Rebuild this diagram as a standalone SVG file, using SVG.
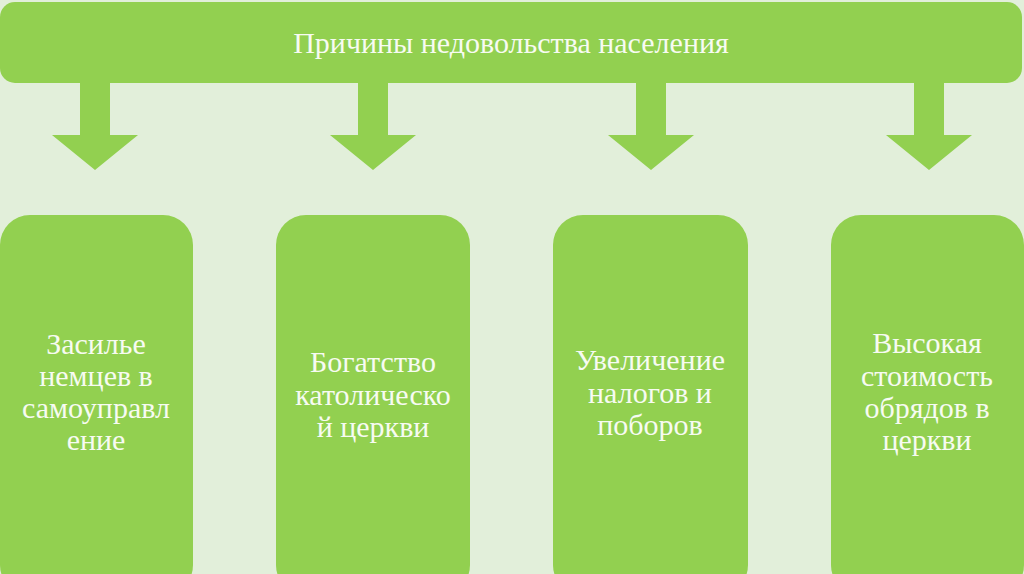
<svg xmlns="http://www.w3.org/2000/svg" width="1024" height="574" viewBox="0 0 1024 574">
<style>
.shape{fill:#92D050;}
.t{font-family:"Liberation Serif","Times New Roman",serif;fill:#F7FBF2;text-anchor:middle;}
.title{font-size:30px;}
.lbl{font-size:30px;}
</style>
<defs>
<path id="arr" d="M-15,0 H15 V52 H43 L0,87 L-43,52 H-15 Z"/>
</defs>
<rect width="1024" height="574" fill="#E2EFDA"/>
<g id="header">
<rect class="shape" x="0" y="2" width="1022" height="81" rx="15"/>
<text class="t title" x="511" y="53">Причины недовольства населения</text>
</g>
<g id="connectors">
<use href="#arr" class="shape" x="95" y="83"/>
<use href="#arr" class="shape" x="373" y="83"/>
<use href="#arr" class="shape" x="651" y="83"/>
<use href="#arr" class="shape" x="929" y="83"/>
</g>
<g id="node1">
<rect class="shape" x="0" y="215" width="193" height="380" rx="30"/>
<text class="t lbl"><tspan x="96" y="354">Засилье</tspan><tspan x="96" y="386">немцев в</tspan><tspan x="96" y="418">самоуправл</tspan><tspan x="96" y="450">ение</tspan></text>
</g>
<g id="node2">
<rect class="shape" x="276" y="215" width="194" height="380" rx="30"/>
<text class="t lbl"><tspan x="373" y="372">Богатство</tspan><tspan x="373" y="405">католическо</tspan><tspan x="373" y="437">й церкви</tspan></text>
</g>
<g id="node3">
<rect class="shape" x="553" y="215" width="195" height="380" rx="30"/>
<text class="t lbl"><tspan x="650" y="370">Увеличение</tspan><tspan x="650" y="403">налогов и</tspan><tspan x="650" y="435">поборов</tspan></text>
</g>
<g id="node4">
<rect class="shape" x="831" y="215" width="193" height="380" rx="30"/>
<text class="t lbl"><tspan x="927" y="353">Высокая</tspan><tspan x="927" y="386">стоимость</tspan><tspan x="927" y="418">обрядов в</tspan><tspan x="927" y="450">церкви</tspan></text>
</g>
</svg>
